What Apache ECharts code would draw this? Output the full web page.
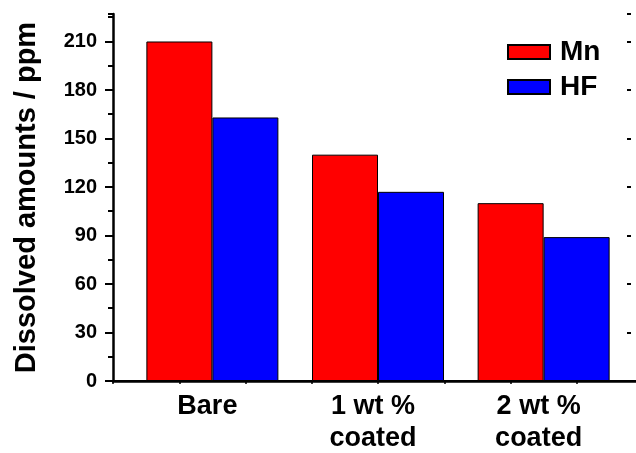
<!DOCTYPE html>
<html>
<head>
<meta charset="utf-8">
<script src="https://cdn.jsdelivr.net/npm/echarts@6/dist/echarts.min.js"></script>
<style>
    html, body { margin: 0; padding: 0; background: #fff; }
    #chart { width: 636px; height: 453px; }
</style>
</head>
<body>
<div id="chart"></div>
<script>
// group positions on the x axis (1, 2, 3) and their labels
const groupPos = [1, 2, 3]
const groupNames = ['Bare', '1 wt %\ncoated', '2 wt %\ncoated']

// dissolved amounts, ppm
const mnValues = [210, 140, 110]
const hfValues = [163, 117, 89]

const yMin = 0
const yMax = 227
const yStep = 30

const font = '"Liberation Sans", Arial, Helvetica, sans-serif'

const chart = echarts.init(document.getElementById('chart'))

const toPoints = (vals) => vals.map((v, i) => [groupPos[i], v])

const option = {
    animation: false,
    grid: {
        left: 113,
        right: -7,
        top: 14,
        bottom: 72,
        outerBoundsMode: 'none'
    },
    legend: {
        orient: 'vertical',
        left: 502,
        top: 33,
        itemWidth: 42,
        itemHeight: 14,
        itemGap: 7,
        icon: 'rect',
        data: ['Mn', 'HF'],
        textStyle: {
            fontFamily: font,
            fontWeight: 'bold',
            fontSize: 28,
            lineHeight: 28,
            color: '#000',
            padding: [0, 0, 0, 5]
        }
    },
    xAxis: [
        {
            type: 'value',
            position: 'bottom',
            min: 0.4,
            max: 3.6,
            interval: 0.2,
            axisLine: { lineStyle: { color: '#000', width: 2.5 } },
            axisTick: { show: false },
            splitLine: { show: false },
            axisLabel: {
                margin: 10,
                color: '#000',
                fontFamily: font,
                fontWeight: 'bold',
                fontSize: 27,
                lineHeight: 32,
                align: 'center',
                padding: [0, 10, 0, 0],
                formatter(v) {
                    const i = groupPos.findIndex(p => Math.abs(p - v) < 1e-6)
                    return i >= 0 ? groupNames[i] : ''
                }
            }
        },
        {
            type: 'value',
            position: 'top',
            min: 0.4,
            max: 3.6,
            interval: 0.4,
            axisLine: { lineStyle: { color: '#000', width: 2 } },
            axisTick: { inside: true, length: 3, lineStyle: { color: '#000', width: 1.5 } },
            axisLabel: { show: false },
            splitLine: { show: false }
        }
    ],
    yAxis: [
        {
            type: 'value',
            position: 'left',
            min: yMin,
            max: yMax,
            interval: yStep,
            name: 'Dissolved amounts / ppm',
            nameLocation: 'middle',
            nameRotate: 90,
            nameGap: 72,
            nameTextStyle: {
                fontFamily: font,
                fontWeight: 'bold',
                fontSize: 29,
                color: '#000'
            },
            axisLine: { show: true, lineStyle: { color: '#000', width: 2.5 } },
            axisTick: { show: true, length: 8, lineStyle: { color: '#000', width: 2 } },
            axisLabel: {
                margin: 16,
                showMaxLabel: false,
                color: '#000',
                fontFamily: font,
                fontWeight: 'bold',
                fontSize: 20
            },
            splitLine: { show: false }
        },
        {
            // minor ticks on the left axis
            type: 'value',
            position: 'left',
            min: yMin,
            max: yMax,
            interval: yStep / 2,
            axisLine: { show: false },
            axisTick: { show: true, length: 5, lineStyle: { color: '#000', width: 2 } },
            axisLabel: { show: false },
            splitLine: { show: false }
        },
        {
            // small inward ticks on the right
            type: 'value',
            position: 'right',
            offset: -12,
            min: yMin,
            max: yMax,
            interval: yStep,
            axisLine: { show: false },
            axisTick: { show: true, inside: true, length: 4, lineStyle: { color: '#000', width: 2 } },
            axisLabel: { show: false },
            splitLine: { show: false }
        }
    ],
    series: [
        {
            name: 'Mn',
            type: 'bar',
            data: toPoints(mnValues),
            barWidth: 66,
            barGap: '0%',
            itemStyle: { color: '#ff0000', borderColor: '#000', borderWidth: 1 }
        },
        {
            name: 'HF',
            type: 'bar',
            data: toPoints(hfValues),
            barWidth: 66,
            barGap: '0%',
            itemStyle: { color: '#0000ff', borderColor: '#000', borderWidth: 1 }
        }
    ]
}

chart.setOption(option)
</script>
</body>
</html>
